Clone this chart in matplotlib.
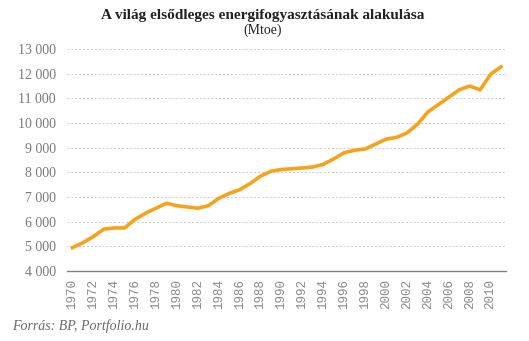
import matplotlib.pyplot as plt

years = list(range(1970, 2012))
consumption = [4950, 5150, 5400, 5700, 5750, 5750, 6100, 6350, 6550, 6750,
               6650, 6600, 6550, 6650, 6950, 7150, 7300, 7550, 7850, 8050,
               8120, 8150, 8180, 8220, 8330, 8550, 8800, 8900, 8950, 9150,
               9350, 9420, 9600, 9950, 10450, 10750, 11050, 11350, 11500, 11350,
               11980, 12280]
yticks = list(range(4000, 14000, 1000))
ytick_labels = ['{:,}'.format(v).replace(',', ' ') for v in yticks]

plt.rcParams['font.family'] = ['Liberation Serif', 'DejaVu Serif']

fig = plt.figure(figsize=(5.29, 3.41), dpi=100)
ax = fig.add_axes([0.127, 0.205, 0.83, 0.651])

ax.plot(years, consumption, color='#f7a21b', linewidth=2.6, solid_joinstyle='round')

ax.set_xlim(1969.5, 2011.5)
ax.set_ylim(4000, 13000)
ax.set_yticks(yticks)
ax.set_yticklabels(ytick_labels, fontsize=10, color='#7a7a7a')
ax.set_xticks(years[::2])
ax.set_xticklabels([str(y) for y in years[::2]], rotation=90, fontsize=9,
                   color='#8a8a8a', family=['Liberation Mono', 'DejaVu Sans Mono'])
ax.tick_params(length=0, pad=8)
ax.tick_params(axis='x', pad=6)

ax.grid(axis='y', linestyle=(0, (2, 2)), color='#cccccc', linewidth=0.7)
for s in ['top', 'right', 'left']:
    ax.spines[s].set_visible(False)
ax.spines['bottom'].set_color('#808080')
ax.spines['bottom'].set_linewidth(1)

fig.text(0.497, 0.955, 'A világ elsődleges energifogyasztásának alakulása',
         ha='center', va='center', fontsize=11, fontweight='bold', color='#222222')
fig.text(0.497, 0.91, '(Mtoe)', ha='center', va='center', fontsize=10, color='#222222')
fig.text(0.022, 0.045, 'Forrás: BP, Portfolio.hu', ha='left', va='center',
         fontsize=10, style='italic', color='#6a6a6a')

fig.savefig('out.png', dpi=100)
